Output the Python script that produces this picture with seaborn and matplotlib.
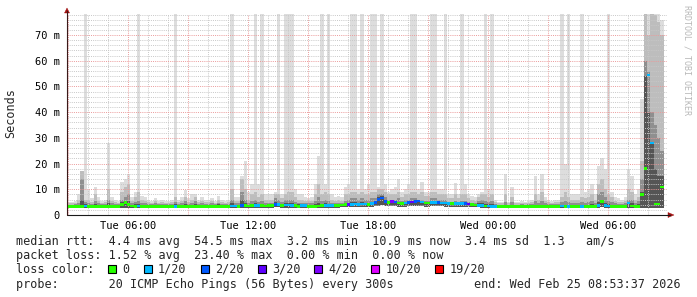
import numpy as np
import pandas as pd
import matplotlib
matplotlib.use("Agg")
import matplotlib.pyplot as plt
import matplotlib.dates as mdates
from matplotlib.lines import Line2D
from matplotlib.patches import Polygon, Rectangle
from matplotlib.ticker import FuncFormatter, MultipleLocator
import seaborn as sns

# ---------------- data (10-minute samples) ----------------
start_time = "2026-02-24 02:57"
step = "10min"

median_ms = [
    3.3, 3.3, 3.3, 3.4, 3.4, 3.5,   3.3, 3.3, 3.4, 3.3, 3.3, 3.3,
    3.4, 3.3, 3.3, 3.3, 4.2, 4.8,   4.2, 3.5, 3.4, 3.5, 3.3, 3.3,
    3.3, 3.3, 3.4, 3.3, 3.3, 3.3,   3.3, 3.3, 3.4, 3.3, 3.3, 3.4,
    3.3, 3.3, 3.4, 3.3, 3.3, 3.3,   3.3, 3.4, 3.3, 3.4, 3.3, 3.3,
    3.4, 3.5, 3.5, 3.4, 3.6, 3.6,   3.5, 3.6, 3.8, 3.8, 3.6, 3.5,
    3.6, 3.6, 4.0, 4.0, 3.8, 3.9,   3.9, 3.8, 3.6, 3.4, 3.7, 3.7,
    3.4, 3.3, 3.4, 3.5, 3.6, 3.6,   3.7, 3.8, 3.7, 3.8, 3.9, 4.0,
    4.1, 4.2, 4.3, 4.2, 4.3, 4.3,   4.1, 4.4, 4.8, 6.0, 6.6, 5.2,
    4.8, 5.2, 5.0, 4.6, 4.5, 4.6,   4.8, 5.0, 5.2, 5.4, 5.0, 4.6,
    4.6, 4.8, 4.8, 4.8, 4.7, 4.6,   4.5, 4.4, 4.5, 4.4, 4.4, 4.5,
    4.3, 4.0, 3.9, 3.8, 3.6, 3.5,   3.5, 3.4, 3.3, 3.2, 3.2, 3.2,
    3.2, 3.2, 3.2, 3.2, 3.2, 3.2,   3.2, 3.2, 3.3, 3.2, 3.3, 3.2,
    3.2, 3.2, 3.2, 3.3, 3.5, 3.3,   3.4, 3.2, 3.2, 3.3, 3.4, 3.3,
    3.3, 3.3, 3.3, 3.8, 5.2, 3.6,   3.5, 3.4, 3.2, 3.2, 3.2, 3.2,
    4.6, 3.5, 3.3, 3.4, 8.0, 18.0,  54.5, 28.0, 4.3, 4.3, 10.9,
]

loss_count = [
    0, 0, 0, 0, 0, 1,   0, 0, 0, 0, 0, 0,
    0, 0, 0, 0, 0, 0,   0, 0, 0, 1, 0, 0,
    0, 0, 0, 0, 0, 0,   0, 0, 1, 0, 0, 0,
    0, 0, 0, 0, 0, 0,   0, 0, 0, 0, 0, 0,
    0, 1, 1, 0, 2, 0,   0, 0, 1, 1, 0, 0,
    0, 0, 2, 1, 0, 1,   1, 1, 0, 0, 1, 1,
    0, 0, 0, 0, 0, 1,   1, 1, 0, 0, 0, 0,
    3, 1, 1, 1, 1, 1,   0, 1, 2, 2, 2, 2,
    0, 4, 2, 0, 0, 1,   2, 3, 2, 2, 1, 0,
    0, 1, 1, 2, 1, 1,   1, 0, 1, 1, 1, 2,
    3, 0, 0, 1, 1, 0,   1, 1, 1, 0, 0, 0,
    0, 0, 0, 0, 0, 0,   0, 0, 0, 0, 0, 0,
    0, 0, 0, 0, 1, 0,   1, 0, 0, 0, 1, 0,
    0, 0, 0, 1, 0, 1,   1, 0, 0, 0, 0, 0,
    1, 0, 0, 0, 0, 0,   1, 1, 0, 0, 0,
]

min_ms = [
    2.7, 2.7, 2.7, 2.7, 2.7, 2.7,   2.7, 2.7, 2.7, 2.7, 2.7, 2.7,
    2.7, 2.7, 2.7, 2.7, 2.8, 2.9,   2.8, 2.7, 2.7, 2.7, 2.7, 2.7,
    2.7, 2.7, 2.7, 2.7, 2.7, 2.7,   2.7, 2.7, 2.7, 2.7, 2.7, 2.7,
    2.7, 2.7, 2.7, 2.7, 2.7, 2.7,   2.7, 2.7, 2.7, 2.7, 2.7, 2.7,
    2.7, 2.8, 2.8, 2.7, 2.8, 2.8,   2.8, 2.8, 2.9, 2.9, 2.8, 2.8,
    2.8, 2.8, 3.0, 3.0, 2.9, 2.9,   2.9, 2.9, 2.8, 2.7, 2.8, 2.8,
    2.7, 2.7, 2.7, 2.8, 2.8, 2.8,   2.9, 2.9, 2.9, 2.9, 3.0, 3.0,
    3.2, 3.2, 3.3, 3.2, 3.3, 3.3,   3.2, 3.3, 3.4, 3.6, 3.7, 3.5,
    3.4, 3.5, 3.4, 3.3, 3.3, 3.3,   3.4, 3.4, 3.5, 3.5, 3.4, 3.3,
    3.3, 3.4, 3.4, 3.4, 3.4, 3.3,   3.3, 3.3, 3.3, 3.3, 3.3, 3.3,
    3.2, 3.1, 3.0, 3.0, 2.9, 2.8,   2.8, 2.8, 2.7, 2.7, 2.7, 2.7,
    2.7, 2.7, 2.7, 2.7, 2.7, 2.7,   2.7, 2.7, 2.7, 2.7, 2.7, 2.7,
    2.7, 2.7, 2.7, 2.7, 2.8, 2.7,   2.8, 2.7, 2.7, 2.7, 2.8, 2.7,
    2.7, 2.7, 2.7, 2.9, 3.0, 2.8,   2.8, 2.7, 2.7, 2.7, 2.7, 2.7,
    2.9, 2.8, 2.7, 2.7, 2.9, 2.9,   2.9, 2.9, 2.9, 2.9, 2.9,
]

p60_ms = [
    3.7, 3.7, 3.8, 4.0, 6.0, 4.2,   3.9, 3.8, 4.2, 3.9, 3.8, 3.8,
    4.5, 3.9, 3.8, 3.8, 5.0, 5.5,   5.5, 4.0, 4.2, 4.3, 4.0, 3.9,
    3.8, 3.8, 3.9, 3.8, 3.8, 3.8,   3.8, 3.8, 4.1, 3.8, 3.9, 4.2,
    3.8, 4.0, 4.3, 3.8, 3.9, 3.8,   3.8, 4.0, 3.8, 4.1, 3.8, 3.8,
    3.9, 4.5, 4.0, 4.0, 6.0, 4.5,   4.0, 4.3, 4.5, 4.2, 4.3, 4.0,
    4.2, 4.2, 5.0, 4.8, 4.3, 4.5,   4.5, 4.5, 4.2, 4.2, 4.2, 4.0,
    4.0, 4.0, 4.3, 4.8, 4.3, 4.5,   4.3, 4.2, 4.0, 4.2, 4.2, 4.5,
    4.8, 5.0, 5.0, 4.8, 5.0, 4.8,   4.8, 5.0, 5.5, 7.0, 7.5, 6.0,
    5.0, 5.0, 5.0, 5.0, 4.8, 5.0,   5.0, 5.0, 5.2, 5.0, 5.0, 4.8,
    4.8, 5.0, 5.0, 5.0, 4.8, 4.8,   4.6, 4.6, 4.7, 4.6, 4.6, 4.6,
    4.5, 4.3, 4.2, 4.5, 4.5, 4.3,   4.2, 4.3, 3.8, 3.6, 3.6, 4.0,
    3.6, 4.0, 3.6, 3.6, 3.7, 3.6,   3.7, 3.7, 4.0, 3.8, 4.0, 3.7,
    3.7, 3.7, 3.7, 3.7, 4.0, 4.0,   4.0, 3.8, 3.8, 3.8, 4.0, 3.9,
    4.0, 4.2, 3.8, 5.0, 6.0, 4.8,   4.2, 4.0, 3.8, 3.7, 3.7, 3.8,
    4.8, 4.5, 4.0, 4.3, 9.0, 54.0,  40.0, 28.0, 18.0, 15.0, 15.0,
]

p75_ms = [
    4.0, 4.0, 4.2, 4.8, 14.0, 5.0,  4.5, 4.3, 5.5, 4.5, 4.2, 4.3,
    6.0, 4.5, 4.3, 4.2, 6.0, 7.0,   8.0, 4.5, 5.0, 5.5, 4.8, 4.5,
    4.3, 4.2, 4.5, 4.2, 4.3, 4.2,   4.2, 4.3, 5.0, 4.3, 4.5, 5.5,
    4.3, 4.8, 5.5, 4.3, 4.5, 4.3,   4.3, 4.6, 4.2, 4.8, 4.3, 4.2,
    4.3, 6.0, 4.5, 4.5, 9.0, 6.0,   4.5, 5.5, 6.0, 5.0, 5.5, 4.5,
    4.8, 4.8, 6.5, 6.0, 5.0, 6.0,   6.0, 6.0, 5.0, 4.8, 4.8, 4.5,
    4.5, 4.5, 5.5, 7.0, 5.5, 6.0,   5.5, 4.8, 4.5, 4.8, 4.5, 5.5,
    6.0, 6.5, 6.5, 6.0, 6.5, 6.0,   6.0, 6.5, 6.5, 8.0, 8.0, 7.0,
    6.0, 6.0, 6.0, 6.5, 5.5, 6.0,   6.0, 6.5, 6.5, 6.0, 6.0, 5.5,
    5.5, 6.5, 6.5, 6.0, 6.0, 6.0,   5.2, 5.2, 5.5, 5.2, 5.5, 5.5,
    5.2, 4.8, 4.5, 5.5, 6.0, 5.5,   5.0, 5.5, 4.2, 4.0, 4.0, 5.0,
    4.0, 5.0, 4.0, 4.0, 4.2, 4.0,   4.2, 4.2, 5.5, 4.8, 5.5, 4.5,
    4.2, 4.2, 4.2, 4.2, 5.0, 5.5,   5.0, 4.5, 4.5, 4.5, 5.0, 4.8,
    5.0, 5.5, 4.5, 8.0, 9.0, 7.0,   5.5, 5.0, 4.5, 4.2, 4.2, 4.5,
    6.0, 6.0, 4.8, 5.5, 14.0, 60.0, 56.0, 40.0, 35.0, 30.0, 25.0,
]

p90_ms = [
    4.5, 4.6, 4.8, 6.0, 17.0, 6.0,  6.0, 5.0, 8.0, 5.5, 4.8, 5.0,
    10.0, 5.5, 5.0, 4.8, 9.0, 11.0, 12.0, 5.5, 7.0, 9.0, 6.0, 5.5,
    5.0, 4.8, 5.5, 4.8, 5.0, 4.8,   4.8, 5.0, 7.0, 5.0, 5.5, 7.0,
    5.0, 6.0, 7.0, 5.0, 5.5, 5.0,   5.0, 5.5, 4.8, 6.0, 5.0, 4.8,
    5.0, 10.0, 5.5, 5.5, 14.0, 10.0, 6.0, 8.0, 9.0, 7.0, 8.0, 6.0,
    6.0, 6.0, 8.0, 8.0, 6.5, 8.0,   9.0, 9.0, 7.0, 6.0, 6.0, 5.5,
    5.5, 5.5, 8.0, 12.0, 8.0, 9.0,  8.0, 6.0, 5.5, 6.0, 5.5, 8.0,
    8.0, 9.0, 9.0, 8.0, 9.0, 8.0,   8.0, 9.0, 9.0, 10.0, 10.0, 9.0,
    8.0, 8.0, 8.0, 9.0, 7.0, 8.0,   8.0, 9.0, 9.0, 8.0, 9.0, 7.5,
    7.5, 9.0, 9.0, 8.0, 8.0, 8.0,   6.5, 6.5, 8.0, 6.5, 8.0, 8.0,
    6.5, 6.0, 5.5, 7.0, 8.0, 8.0,   7.0, 8.0, 5.0, 4.5, 4.5, 8.0,
    4.5, 7.0, 4.5, 4.5, 4.8, 4.5,   4.8, 5.0, 8.0, 6.0, 9.0, 5.5,
    5.0, 4.8, 5.0, 5.0, 7.0, 9.0,   7.0, 6.0, 6.0, 6.0, 7.0, 6.5,
    7.0, 8.0, 6.0, 12.0, 14.0, 10.0, 8.0, 7.0, 5.5, 5.0, 5.0, 5.5,
    10.0, 9.0, 6.0, 7.0, 21.0, 80.0, 70.0, 80.0, 78.0, 75.0, 70.0,
]

max_ms = [
    5.0, 5.2, 5.5, 8.0, 17.0, 80.0, 9.7, 6.5, 11.0, 7.0, 5.5, 5.8,
    28.0, 7.0, 6.0, 5.5, 13.0, 14.0, 16.0, 7.0, 9.0, 80.0, 7.5, 7.0,
    6.0, 5.5, 6.5, 5.5, 6.0, 5.5,   5.5, 6.0, 80.0, 6.0, 7.0, 9.7,
    6.5, 8.0, 8.0, 6.0, 7.0, 6.0,   6.0, 6.5, 5.5, 7.5, 6.0, 5.5,
    6.0, 80.0, 7.0, 7.0, 15.0, 21.0, 9.0, 12.0, 80.0, 12.0, 80.0, 8.0,
    8.0, 8.0, 9.0, 80.0, 8.0, 80.0, 80.0, 80.0, 10.0, 8.0, 8.0, 7.0,
    6.5, 7.0, 12.0, 23.0, 80.0, 12.0, 80.0, 8.0, 7.0, 7.5, 7.0, 11.0,
    12.0, 80.0, 80.0, 10.0, 80.0, 10.0, 12.0, 80.0, 80.0, 11.0, 80.0, 12.0,
    9.0, 10.0, 11.0, 14.0, 9.0, 10.0, 12.0, 80.0, 80.0, 10.0, 12.7, 9.0,
    9.0, 80.0, 80.0, 10.0, 10.0, 80.0, 8.0, 8.0, 12.5, 8.0, 80.0, 12.0,
    8.0, 7.5, 7.0, 8.0, 9.0, 80.0,  10.0, 80.0, 6.0, 5.0, 5.0, 16.0,
    5.0, 11.0, 5.0, 5.0, 5.5, 5.0,  5.5, 6.0, 15.0, 8.0, 16.0, 7.0,
    6.0, 5.5, 6.0, 6.0, 80.0, 20.0, 80.0, 8.0, 8.0, 8.0, 80.0, 9.0,
    10.0, 12.0, 8.0, 19.0, 22.0, 18.0, 80.0, 9.0, 7.0, 6.5, 6.0, 7.0,
    18.0, 15.0, 8.0, 10.0, 45.0, 80.0, 80.0, 80.0, 80.0, 80.0, 76.0,
]

loss_labels = ["0", "1/20", "2/20", "3/20", "4/20", "10/20", "19/20"]
loss_colors = ["#26ff00", "#00b8ff", "#0059ff", "#5e00ff", "#7e00ff", "#dd00ff", "#ff0000"]
smoke_colors = ["#dddddd", "#bdbdbd", "#8f8f8f", "#555555"]

stats_lines = [
    "median rtt:  4.4 ms avg  54.5 ms max  3.2 ms min  10.9 ms now  3.4 ms sd  1.3   am/s",
    "packet loss: 1.52 % avg  23.40 % max  0.00 % min  0.00 % now",
]
probe_text = "probe:       20 ICMP Echo Pings (56 Bytes) every 300s"
end_text = "end: Wed Feb 25 08:53:37 2026"

# ---------------- figure ----------------
sns.set_theme(style="white")
plt.rcParams["font.family"] = ["DejaVu Sans Mono"]

W, H = 697, 297
fig = plt.figure(figsize=(W / 100, H / 100), dpi=100)
fig.patch.set_facecolor("white")


def fx(x):
    return x / W


def fy(y):
    return 1 - y / H


ax = fig.add_axes([fx(67), fy(215), 600 / W, 201 / H])
ax.set_facecolor("white")

times = pd.date_range(start_time, periods=len(median_ms), freq=step)
t = mdates.date2num(times)
dt = 10 / 1440
edges = np.append(t, t[-1] + dt)


def ext(a):
    a = np.asarray(a, dtype=float)
    return np.append(a, a[-1])


lo = ext(min_ms)
for top, col in zip([max_ms, p90_ms, p75_ms, p60_ms], smoke_colors):
    ax.fill_between(edges, lo, ext(top), step="post", color=col, linewidth=0, zorder=1)


def bucket(n):
    if n >= 19:
        return "19/20"
    if n >= 10:
        return "10/20"
    if n >= 4:
        return "4/20"
    return loss_labels[n]


df = pd.DataFrame({
    "t": t + dt / 2,
    "median": median_ms,
    "loss": [bucket(n) for n in loss_count],
})
rect_marker = [(-1, -0.75), (1, -0.75), (1, 0.75), (-1, 0.75), (-1, -0.75)]
sns.scatterplot(data=df, x="t", y="median", hue="loss", hue_order=loss_labels,
                palette=dict(zip(loss_labels, loss_colors)), marker=rect_marker,
                s=6.3, linewidth=0, legend=False, ax=ax, zorder=4)

x0 = pd.Timestamp(start_time)
ax.set_xlim(mdates.date2num(x0), mdates.date2num(x0 + pd.Timedelta(hours=30)))
ax.set_ylim(0, 78.2)

ax.xaxis.set_major_locator(mdates.HourLocator(byhour=range(0, 24, 3)))
ax.xaxis.set_minor_locator(mdates.HourLocator(byhour=range(24)))


def xfmt(v, pos):
    d = mdates.num2date(v)
    return d.strftime("%a %H:%M") if d.hour % 6 == 0 else ""


ax.xaxis.set_major_formatter(FuncFormatter(xfmt))
ax.yaxis.set_major_locator(MultipleLocator(10))
ax.yaxis.set_minor_locator(MultipleLocator(2))
ax.yaxis.set_major_formatter(FuncFormatter(lambda v, p: "0" if v == 0 else f"{int(round(v))} m"))

ax.set_axisbelow(False)
ax.grid(which="minor", color="#c8c8c8", linestyle=(0, (1, 1.2)), linewidth=0.7)
ax.grid(which="major", color="#eb9a9a", linestyle=(0, (1, 1.2)), linewidth=0.7)
ax.tick_params(axis="both", which="both", length=0, labelsize=7.5, colors="#000000")
ax.tick_params(axis="x", pad=4)
ax.tick_params(axis="y", pad=5)
for s in ax.spines.values():
    s.set_visible(False)
ax.set_xlabel("")
ax.set_ylabel("")

# axis lines and arrows
fig.add_artist(Line2D([fx(67), fx(670)], [fy(215), fy(215)], color="#1a1a1a", lw=0.8,
                      transform=fig.transFigure))
fig.add_artist(Line2D([fx(67), fx(67)], [fy(215), fy(11)], color="#3a1a1a", lw=0.8,
                      transform=fig.transFigure))
fig.add_artist(Polygon([(fx(668), fy(212.5)), (fx(674), fy(215)), (fx(668), fy(217.5))],
                       closed=True, transform=fig.transFigure, facecolor="#a01010",
                       edgecolor="#a01010", lw=0.3))
fig.add_artist(Polygon([(fx(64.5), fy(13)), (fx(67), fy(8)), (fx(69.5), fy(13))],
                       closed=True, transform=fig.transFigure, facecolor="#a01010",
                       edgecolor="#a01010", lw=0.3))

# labels
fig.text(fx(11), fy(113), "Seconds", rotation=90, ha="center", va="center", fontsize=8.5)
fig.text(fx(687.5), fy(60), "RRDTOOL / TOBI OETIKER", rotation=270, ha="center", va="center",
         fontsize=6, color="#b8b8b8")

# legend / stats text
CH = 0.602 * 8.5 * 100 / 72  # px per monospace char
fig.text(fx(16), fy(245), stats_lines[0], ha="left", va="baseline", fontsize=8.5)
fig.text(fx(16), fy(259), stats_lines[1], ha="left", va="baseline", fontsize=8.5)

color_line = "loss color:"
box_pos = [13, 18, 26, 34, 42, 50, 59]
fig.text(fx(16), fy(273), color_line, ha="left", va="baseline", fontsize=8.5)
for k, lab, col in zip(box_pos, loss_labels, loss_colors):
    bx = 16 + k * CH
    fig.add_artist(Rectangle((fx(bx), fy(273)), 8 / W, 8 / H, transform=fig.transFigure,
                             facecolor=col, edgecolor="black", lw=0.8))
    fig.text(fx(16 + (k + 2) * CH), fy(273), lab, ha="left", va="baseline", fontsize=8.5)

fig.text(fx(16), fy(288), probe_text, ha="left", va="baseline", fontsize=8.5)
fig.text(fx(681), fy(288), end_text, ha="right", va="baseline", fontsize=8.5)

fig.savefig("out.png", dpi=100, facecolor="white")
